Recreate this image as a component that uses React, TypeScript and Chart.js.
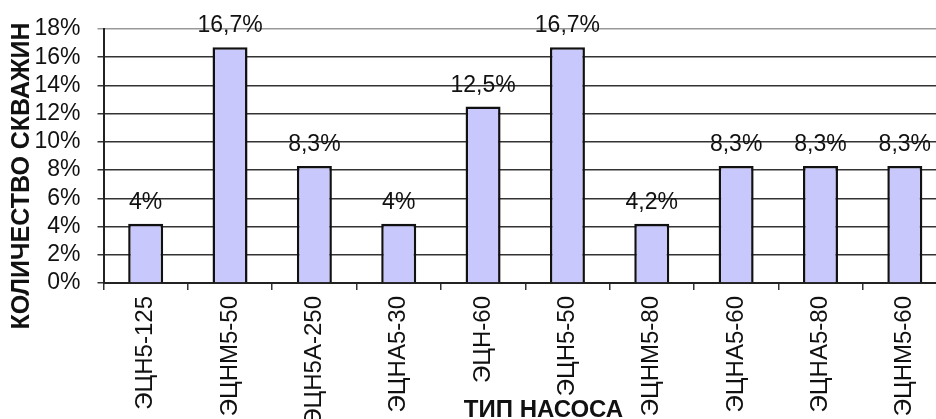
import React, { useEffect, useRef } from 'react';
import { Chart, registerables } from 'chart.js';

Chart.register(...registerables);

const categories = ['ЭЦН5-125', 'ЭЦНМ5-50', 'ЭЦН5А-250', 'ЭЦНА5-30', 'ЭЦН-60', 'ЭЦН5-50', 'ЭЦНМ5-80', 'ЭЦНА5-60', 'ЭЦНА5-80', 'ЭЦНМ5-60'];
const values = [4.2, 16.7, 8.3, 4.2, 12.5, 16.7, 4.2, 8.3, 8.3, 8.3];
const valueLabels = ['4%', '16,7%', '8,3%', '4%', '12,5%', '16,7%', '4,2%', '8,3%', '8,3%', '8,3%'];
const yMin = 0;
const yMax = 18;
const yStep = 2;
const xTitle = 'ТИП НАСОСА';
const yTitle = 'КОЛИЧЕСТВО СКВАЖИН';

export default function App() {
  const ref = useRef<HTMLCanvasElement>(null);

  useEffect(() => {
    const canvas = ref.current;
    if (!canvas) return;

    const labelPlugin = {
      id: 'valueLabels',
      afterDatasetsDraw(chart: any) {
        const ctx = chart.ctx;
        const meta = chart.getDatasetMeta(0);
        ctx.save();
        ctx.font = '23px "Liberation Sans"';
        ctx.fillStyle = '#111';
        ctx.textAlign = 'center';
        ctx.textBaseline = 'alphabetic';
        meta.data.forEach((bar: any, i: number) => {
          ctx.fillText(valueLabels[i], bar.x, bar.y - 15);
        });
        ctx.restore();
      },
    };

    const titlesPlugin = {
      id: 'axisTitles',
      afterDraw(chart: any) {
        const ctx = chart.ctx;
        const area = chart.chartArea;
        ctx.save();
        ctx.font = 'bold 24px "Liberation Sans"';
        ctx.fillStyle = '#111';
        ctx.textAlign = 'center';
        ctx.textBaseline = 'middle';
        ctx.fillText(xTitle, area.left + 440, chart.height - 9);
        ctx.font = 'bold 25px "Liberation Sans"';
        ctx.translate(22, area.top + 147);
        ctx.rotate(-Math.PI / 2);
        ctx.fillText(yTitle, 0, 0);
        ctx.restore();
      },
    };

    const chart = new Chart(canvas, {
      type: 'bar',
      data: {
        labels: categories,
        datasets: [
          {
            data: values,
            backgroundColor: '#c8c8fc',
            borderColor: '#111',
            borderWidth: 2.5,
            barPercentage: 0.415,
            categoryPercentage: 1,
          },
        ],
      },
      options: {
        animation: false,
        responsive: false,
        devicePixelRatio: 1,
        layout: { padding: { top: 29, right: 3, left: 0, bottom: 0 } },
        plugins: {
          legend: { display: false },
          tooltip: { enabled: false },
        },
        scales: {
          x: {
            type: 'category',
            offset: true,
            grid: {
              display: true,
              drawOnChartArea: false,
              drawTicks: true,
              tickLength: 7,
              color: '#333',
              lineWidth: 1.5,
              offset: true,
            },
            border: { display: true, color: '#222', width: 2 },
            ticks: {
              minRotation: 90,
              maxRotation: 90,
              autoSkip: false,
              padding: 6,
              color: '#111',
              font: { family: 'Liberation Sans', size: 24 },
            },
            afterFit: (s: any) => {
              s.height = 136;
            },
          },
          y: {
            min: yMin,
            max: yMax,
            ticks: {
              stepSize: yStep,
              autoSkip: false,
              padding: 17,
              color: '#111',
              font: { family: 'Liberation Sans', size: 23, lineHeight: 1 },
              callback: (v: any) => v + '%',
            },
            grid: {
              color: (c: any) => (c.tick && c.tick.value === yMax ? '#999' : '#333'),
              lineWidth: 1.5,
              tickLength: 6,
            },
            border: { display: true, color: '#222', width: 2 },
            afterFit: (s: any) => {
              s.width = 103.5;
            },
          },
        },
      },
      plugins: [labelPlugin, titlesPlugin],
    });

    return () => chart.destroy();
  }, []);

  return (
    <div
      style={{
        position: 'absolute',
        left: 0,
        top: 0,
        width: 936,
        height: 419,
        overflow: 'hidden',
        background: '#fff',
      }}
    >
      <canvas ref={ref} width={950} height={419} style={{ display: 'block', width: 950, height: 419 }} />
    </div>
  );
}
